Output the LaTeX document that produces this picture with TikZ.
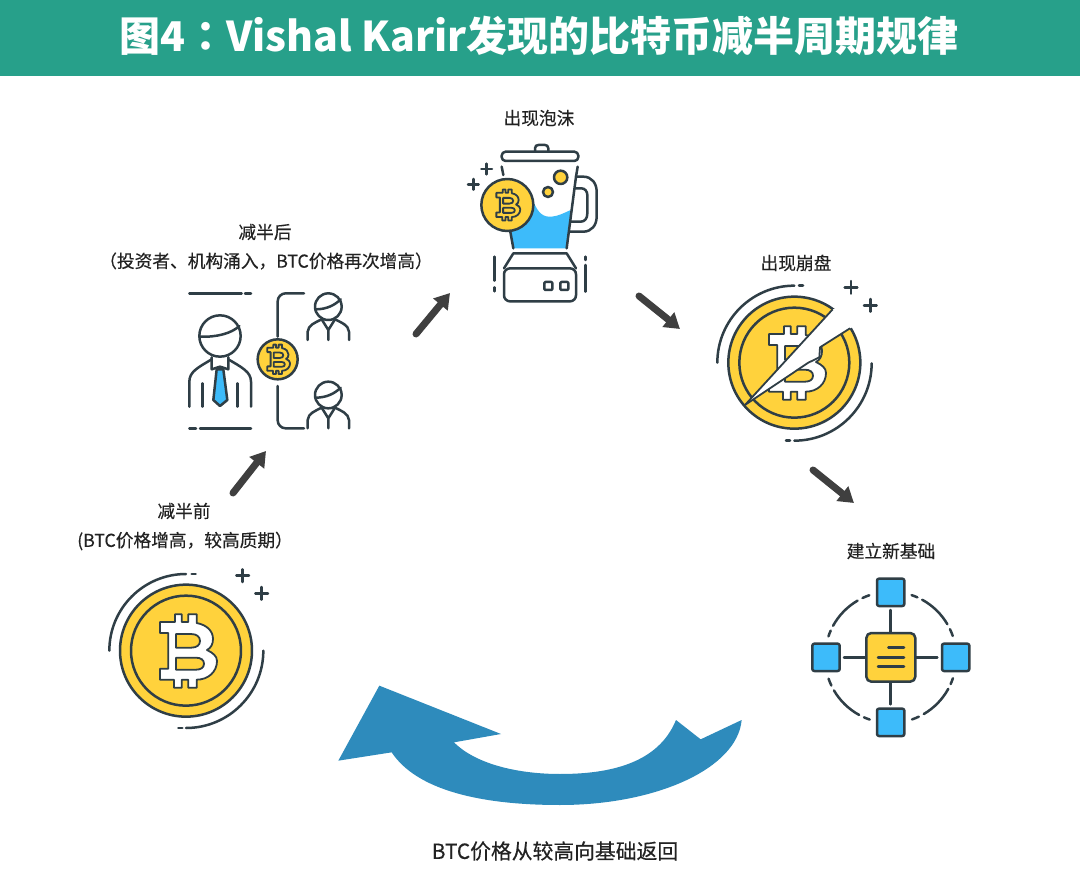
\documentclass[tikz,border=0pt]{standalone}
\usepackage{fontspec}
\setmainfont{Noto Sans CJK SC}
\newfontfamily\labfont[FakeBold=0.35]{Noto Sans CJK SC}
\newfontfamily\colonfont{Noto Sans CJK TC}
\usetikzlibrary{arrows.meta}
\definecolor{ink}{HTML}{2F3E46}
\definecolor{coiny}{HTML}{FFD23C}
\definecolor{skyb}{HTML}{3DBBFA}
\definecolor{teal}{HTML}{27A08A}
\definecolor{bigarrow}{HTML}{2E8BBC}
\definecolor{arrowgrey}{HTML}{3F3F3F}
\definecolor{labelc}{HTML}{222222}
\tikzset{
  icon/.style={draw=ink,line width=2.5pt,line cap=round,line join=round},
  thinicon/.style={draw=ink,line width=1.8pt,line cap=round,line join=round},
  lab/.style={font=\labfont\fontsize{17.7}{19}\selectfont,text=labelc,inner sep=0pt},
  flowarrow/.style={draw=arrowgrey,line width=7pt,line cap=round,-{Triangle[length=15pt,width=18pt]}},
  zoomed/.style={shift={#1},scale=0.33333}
}
\newcommand\glyphB[2]{%
  \begin{scope}[scale=#1]
    \path[thinicon,fill=#2] (-26,-29) -- (-11,-29) -- (-11,-36.7) -- (-4.3,-36.7) -- (-4.3,-29) -- (2.3,-29) -- (2.3,-36.7) -- (10.7,-36.7) -- (10.7,-28)
      .. controls (21,-26) and (27,-20) .. (27,-12) .. controls (27,-7) and (25,-3) .. (21,-1)
      .. controls (27,2) and (31,5) .. (31,10) .. controls (31,21) and (22,28.7) .. (10.7,28.7)
      -- (10.7,36.7) -- (2.3,36.7) -- (2.3,28.7) -- (-4.3,28.7) -- (-4.3,36.7) -- (-12,36.7) -- (-12,28.7) -- (-26,28.7) -- (-26,17.7) -- (-17.7,17.7) -- (-17.7,-18) -- (-26,-18) -- cycle;
    \path[thinicon,fill=coiny] (-10,-17) -- (5,-17) .. controls (11,-17) and (14,-14) .. (14,-10) .. controls (14,-6) and (11,-3.3) .. (5,-3.3) -- (-10,-3.3) -- cycle;
    \path[thinicon,fill=coiny] (-10,6.7) -- (10,6.7) .. controls (15,6.7) and (18,9) .. (18,12.7) .. controls (18,16.5) and (15,18.7) .. (10,18.7) -- (-10,18.7) -- cycle;
  \end{scope}}
\newcommand\plusmark[3]{\path[icon] (#1-#3,#2) -- (#1+#3,#2) (#1,#2-#3) -- (#1,#2+#3);}
\begin{document}
\begin{tikzpicture}[x=1pt,y=-1pt]
\useasboundingbox (0,0) rectangle (1080,888);
\fill[white] (0,0) rectangle (1080,888);
\fill[teal] (0,0) rectangle (1080,76);
\node[inner sep=0pt,text=white,font=\fontsize{41}{44}\bfseries\selectfont] (title) at (539,36) {图4{\colonfont\bfseries ：}Vishal Karir发现的比特币减半周期规律};

% labels
\node[lab] (lblBubble) at (539,118) {出现泡沫};
\node[lab] (lblAfterA) at (265,232) {减半后};
\node[lab] (lblAfterB) at (266,261) {（投资者、机构涌入，BTC价格再次增高）};
\node[lab] (lblCrash) at (796,263) {出现崩盘};
\node[lab] (lblBeforeA) at (184,511) {减半前};
\node[lab] (lblBeforeB) at (185,541) {(BTC价格增高，较高质期）};
\node[lab] (lblBase) at (891,551) {建立新基础};
\node[lab,font=\labfont\fontsize{20.8}{22}\selectfont] (lblReturn) at (555,851) {BTC价格从较高向基础返回};

% whole coin
\begin{scope}[zoomed={(100,560)}]
  \path[icon,fill=coiny] (258,272) circle[radius=198];
  \path[icon,fill=coiny] (258,272) circle[radius=165];
  \path[icon] (28,272) arc[start angle=180,end angle=270,radius=230];
  \path[icon] (275,42) -- (287,42);
  \path[icon] (490,272) arc[start angle=0,end angle=90,radius=232];
  \path[icon] (235,504) -- (247,504);
  \plusmark{428}{47}{19}
  \plusmark{485}{100}{19}
\end{scope}
\begin{scope}[shift={(186,651)}]\glyphB{1}{white}\end{scope}

% blender
\begin{scope}[zoomed={(450,130)}]
  \fill[skyb] (175,260) -- (250,215) .. controls (265,250) and (280,262) .. (305,260) .. controls (325,258) and (340,250) .. (362,240) -- (348,355) -- (190,355) -- cycle;
  \path[icon] (155,110) -- (160,135) (180,300) -- (190,355);
  \path[icon] (383,110) -- (378,140) -- (350,355);
  \path[icon] (378,140) -- (400,140) .. controls (425,140) and (440,160) .. (440,185) -- (440,260) .. controls (440,285) and (425,305) .. (400,305) -- (358,305);
  \path[icon] (375,175) -- (395,175) .. controls (405,175) and (412,185) .. (412,195) -- (412,250) .. controls (412,265) and (405,275) .. (392,275) -- (362,275);
  \path[icon] (255,65) -- (255,55) .. controls (255,48) and (260,45) .. (265,45) -- (285,45) .. controls (290,45) and (295,48) .. (295,55) -- (295,65);
  \path[icon,fill=white,rounded corners=4pt] (155,65) rectangle (385,93);
  \path[icon,fill=coiny] (332,142) circle[radius=20];
  \path[icon,fill=coiny] (294,186) circle[radius=15];
  \path[icon,fill=coiny] (172,225) circle[radius=78];
  \path[icon] (190,370) -- (350,370) -- (378,415) (190,370) -- (162,415);
  \path[icon,rounded corners=6pt] (162,415) rectangle (378,514);
  \path[icon,rounded corners=1pt] (283,456) rectangle (307,480);
  \path[icon,rounded corners=1pt] (331,456) rectangle (355,480);
  \path[icon] (133,380) -- (133,452) (133,472) -- (133,484);
  \path[icon] (407,380) -- (407,390) (407,405) -- (407,485);
  \plusmark{110}{117}{16}
  \plusmark{70}{163}{16}
\end{scope}
\begin{scope}[shift={(507.3,205)}]\glyphB{0.42}{coiny}\end{scope}

% people
\begin{scope}[zoomed={(170,280)}]
  \path[icon] (58,40) -- (215,40) (225,40) -- (243,40);
  \path[icon] (58,445) -- (78,445) (90,445) -- (243,445);
  \path[icon] (150,168) circle[radius=62];
  \path[icon] (90,170) .. controls (140,172) and (185,160) .. (208,138);
  \path[icon] (58,380) -- (58,305) .. controls (58,275) and (85,262) .. (125,238);
  \path[icon] (243,380) -- (243,305) .. controls (243,275) and (215,262) .. (175,238);
  \path[icon] (125,232) -- (125,268) -- (150,260) -- (175,268) -- (175,232);
  \path[icon,fill=skyb] (140,268) -- (160,268) -- (172,360) -- (150,378) -- (130,360) -- cycle;
  \path[icon] (98,310) -- (98,380) (203,310) -- (203,380);
  \path[icon,rounded corners=8pt] (323,170) -- (323,40) -- (402,40);
  \path[icon,rounded corners=8pt] (323,318) -- (323,445) -- (402,445);
  \path[icon,fill=coiny] (323,238) circle[radius=60];
  \foreach \dy in {0,265}{
    \begin{scope}[yshift=\dy*-1pt]
    \path[icon] (475,80) circle[radius=40];
    \path[icon] (437,88) .. controls (470,88) and (495,75) .. (512,58);
    \path[icon] (413,180) -- (413,155) .. controls (415,135) and (435,128) .. (455,118);
    \path[icon] (537,180) -- (537,155) .. controls (535,135) and (515,128) .. (495,118);
    \path[icon] (455,118) -- (475,150) -- (495,118) (475,150) -- (475,180);
    \end{scope}
  }
\end{scope}
\begin{scope}[shift={(277.7,359.3)}]\glyphB{0.4}{coiny}\end{scope}

% broken coin
\begin{scope}[zoomed={(700,270)}]
  \path[icon,fill=coiny] (283,278) circle[radius=198];
  \path[icon,fill=coiny] (283,278) circle[radius=165];
\end{scope}
\begin{scope}[shift={(795,363)}]\glyphB{1}{white}\end{scope}
\begin{scope}[zoomed={(700,270)}]
  \fill[white] (135,405) -- (398,118) -- (425,112) -- (475,165) -- (450,175) -- (360,232) -- (358,262) -- (325,275) -- cycle;
  \path[draw=ink,line width=1.8pt,line join=round] (135,405) -- (398,118);
  \path[draw=ink,line width=1.8pt,line join=round] (450,175) -- (360,232) -- (358,262) -- (325,278) -- (135,405);
  \path[icon] (52,278) arc[start angle=180,end angle=270,radius=231];
  \path[icon] (297,47) -- (309,47);
  \path[icon] (515,280) arc[start angle=0,end angle=90,radius=232];
  \path[icon] (258,511) -- (270,511);
  \plusmark{453}{52}{19}
  \plusmark{511}{106}{19}
\end{scope}

% network
\begin{scope}[zoomed={(800,570)}]
  \path[icon] (272,120) -- (272,188) (272,335) -- (272,403) (132,262) -- (198,262) (345,262) -- (412,262);
  \foreach \a in {0,90,180,270}{
    \path[icon] (272,262) ++(288.6+\a:197) arc[start angle=288.6+\a,end angle=294+\a,radius=197];
    \path[icon] (272,262) ++(298.7+\a:197) arc[start angle=298.7+\a,end angle=329.7+\a,radius=197];
    \path[icon] (272,262) ++(334.6+\a:197) arc[start angle=334.6+\a,end angle=341+\a,radius=197];
  }
  \path[icon,fill=skyb,rounded corners=2pt] (231,26) rectangle (313,108);
  \path[icon,fill=skyb,rounded corners=2pt] (37,221) rectangle (119,303);
  \path[icon,fill=skyb,rounded corners=2pt] (426,221) rectangle (508,303);
  \path[icon,fill=skyb,rounded corners=2pt] (231,416) rectangle (313,498);
  \path[icon,fill=coiny,rounded corners=5pt] (199,189) rectangle (346,335);
  \path[icon] (265,233) -- (312,233) (234,262) -- (312,262) (234,290) -- (312,290);
\end{scope}

% cycle arrows
\coordinate (a1s) at (233,493); \coordinate (a1e) at (266,451);
\coordinate (a2s) at (416,334); \coordinate (a2e) at (450,293);
\coordinate (a3s) at (639,296); \coordinate (a3e) at (680,329);
\coordinate (a4s) at (813,470); \coordinate (a4e) at (854,503);
\draw[flowarrow] (a1s) -- (a1e);
\draw[flowarrow] (a2s) -- (a2e);
\draw[flowarrow] (a3s) -- (a3e);
\draw[flowarrow] (a4s) -- (a4e);

% big return arrow
\begin{scope}[zoomed={(330,680)}]
  \fill[bigarrow] (25,242) -- (148,17) -- (513,162) -- (372,187)
    .. controls (440,255) and (570,282) .. (690,282)
    .. controls (840,282) and (985,250) .. (1038,120)
    -- (1112,178) -- (1235,120)
    .. controls (1222,265) and (980,375) .. (690,375)
    .. controls (450,375) and (260,330) .. (185,217) -- cycle;
\end{scope}
\end{tikzpicture}
\end{document}
